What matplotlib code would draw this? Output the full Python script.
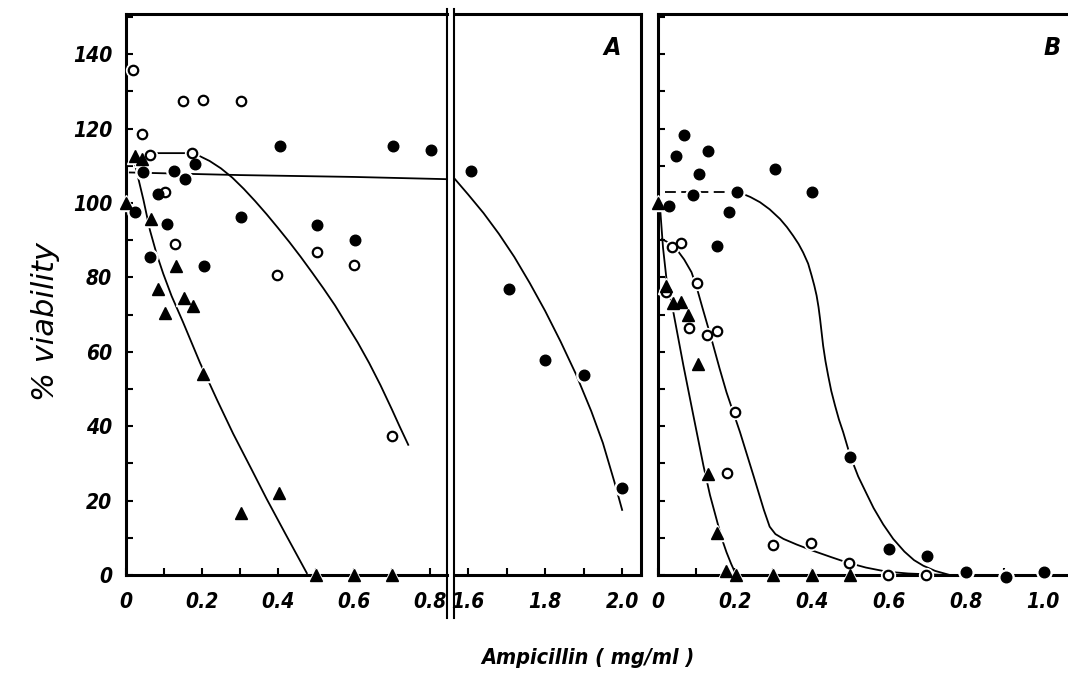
import numpy as np
import matplotlib
matplotlib.use("Agg")
import matplotlib.pyplot as plt
from matplotlib.lines import Line2D
from matplotlib.ticker import MultipleLocator, FixedLocator

plt.rcParams['font.family'] = ['DejaVu Sans']
plt.rcParams['font.stretch'] = 'condensed'
plt.rcParams['font.style'] = 'italic'

# ---- panel A, low range (0 - 0.8 mg/ml) ----
a_open_x = [0.019, 0.151, 0.202, 0.303, 0.043, 0.063, 0.175, 0.103, 0.128, 0.398, 0.503, 0.600, 0.699]
a_open_y = [135.7, 127.5, 127.7, 127.5, 118.5, 112.9, 113.4, 102.9, 88.9, 80.6, 86.7, 83.4, 37.4]
a_fill_x = [0.044, 0.126, 0.156, 0.182, 0.083, 0.023, 0.109, 0.064, 0.206, 0.303, 0.405, 0.504, 0.603, 0.704, 0.804]
a_fill_y = [108.3, 108.6, 106.4, 110.5, 102.3, 97.5, 94.4, 85.6, 83.1, 96.2, 115.3, 94.0, 90.1, 115.4, 114.2]
a_tri_x = [0.024, 0.041, 0.0, 0.065, 0.131, 0.083, 0.103, 0.153, 0.177, 0.203, 0.304, 0.404, 0.5, 0.6, 0.7]
a_tri_y = [112.6, 111.7, 100.0, 95.7, 83.1, 77.0, 70.3, 74.4, 72.3, 54.0, 16.7, 22.1, 0.0, 0.0, 0.0]

# fitted curves
a_fill_curve_x = [0.01, 0.3, 0.6, 0.845]
a_fill_curve_y = [108.2, 107.5, 107.0, 106.4]
a_open_curve_x = [0.055, 0.16, 0.19, 0.22, 0.25, 0.28, 0.31, 0.34, 0.37, 0.40, 0.43, 0.46,
                  0.49, 0.52, 0.55, 0.58, 0.61, 0.64, 0.67, 0.70, 0.72, 0.743]
a_open_curve_y = [113.4, 113.4, 112.8, 111.3, 109.3, 106.8, 103.8, 100.5, 97.0, 93.3, 89.5, 85.5,
                  81.3, 77.0, 72.5, 67.5, 62.5, 57.0, 51.0, 44.5, 40.0, 35.0]
a_tri_curve_x = [0.022, 0.035, 0.046, 0.063, 0.08, 0.098, 0.12, 0.15, 0.195, 0.24, 0.282,
                 0.33, 0.37, 0.42, 0.476]
a_tri_curve_y = [111.0, 105.5, 100.8, 92.7, 86.5, 81.0, 75.0, 68.0, 57.0, 47.0, 38.0,
                 28.5, 20.5, 11.0, 0.5]
a_tri_base_x = [0.476, 0.72]
a_tri_base_y = [0.0, 0.0]

# ---- panel A, high range (1.6 - 2.0 mg/ml) ----
a2_fill_x = [1.607, 1.705, 1.80, 1.90, 2.00]
a2_fill_y = [108.6, 77.0, 57.8, 53.8, 23.5]
a2_curve_x = [1.566, 1.60, 1.64, 1.68, 1.72, 1.76, 1.80, 1.84, 1.88, 1.92, 1.95, 1.98, 2.0]
a2_curve_y = [106.4, 102.3, 97.3, 91.7, 85.5, 78.5, 71.0, 62.8, 54.0, 44.0, 35.5, 25.0, 17.5]

# ---- panel B ----
b_fill_x = [0.068, 0.048, 0.131, 0.107, 0.304, 0.092, 0.204, 0.399, 0.029, 0.185, 0.152,
            0.5, 0.6, 0.698, 0.8, 0.904, 1.003]
b_fill_y = [118.3, 112.7, 113.9, 107.8, 109.1, 102.2, 102.9, 103.0, 99.1, 97.5, 88.4,
            31.6, 7.0, 5.0, 0.7, -0.5, 0.9]
b_open_x = [0.059, 0.036, 0.102, 0.022, 0.081, 0.126, 0.152, 0.2, 0.18, 0.3, 0.397, 0.497, 0.598, 0.695]
b_open_y = [89.2, 88.1, 78.5, 76.0, 66.4, 64.5, 65.5, 43.7, 27.4, 8.1, 8.5, 3.2, 0.0, 0.0]
b_tri_x = [0.0, 0.022, 0.04, 0.06, 0.079, 0.103, 0.129, 0.152, 0.177, 0.203, 0.3, 0.4, 0.5]
b_tri_y = [100.0, 77.8, 73.0, 73.3, 70.0, 56.7, 27.2, 11.3, 1.1, 0.0, 0.0, 0.0, 0.0]

b_fill_flat_x = [0.018, 0.21]
b_fill_flat_y = [102.9, 102.9]
b_fill_curve_x = [0.21, 0.24, 0.265, 0.29, 0.317, 0.335, 0.351, 0.365, 0.377, 0.39, 0.399,
                  0.406, 0.412, 0.417, 0.421, 0.425, 0.429, 0.435, 0.442, 0.45, 0.46,
                  0.47, 0.481, 0.499, 0.52, 0.542, 0.56, 0.585, 0.611, 0.64, 0.665,
                  0.689, 0.72, 0.758]
b_fill_curve_y = [102.9, 101.6, 100.2, 98.3, 95.7, 93.5, 91.2, 89.0, 86.7, 83.7, 80.5,
                  77.8, 75.1, 72.0, 68.8, 65.2, 61.6, 57.5, 53.6, 49.5, 45.5,
                  41.8, 38.4, 32.1, 26.5, 21.8, 18.0, 13.6, 9.7, 6.3, 4.0,
                  2.5, 1.1, 0.0]
b_open_curve_x = [0.01, 0.03, 0.048, 0.068, 0.087, 0.10, 0.115, 0.139, 0.16, 0.178, 0.213,
                  0.248, 0.275, 0.29, 0.305, 0.326, 0.36, 0.403, 0.45, 0.49, 0.54,
                  0.594, 0.65, 0.698, 0.75]
b_open_curve_y = [90.3, 89.2, 87.6, 84.8, 81.4, 77.5, 72.0, 63.4, 55.5, 49.1, 38.4,
                  26.7, 17.5, 13.0, 11.0, 9.7, 8.2, 6.5, 4.8, 3.4, 2.0,
                  0.9, 0.4, 0.2, 0.0]
b_tri_curve_x = [0.005, 0.013, 0.022, 0.04, 0.066, 0.092, 0.118, 0.135, 0.152, 0.165,
                 0.178, 0.19, 0.2]
b_tri_curve_y = [99.3, 88.0, 79.6, 70.6, 56.3, 42.8, 29.4, 21.5, 15.0, 10.0,
                 6.1, 3.0, 0.7]
b_base_x = [0.2, 1.065]
b_base_y = [0.0, 0.0]

y_max = 150.8

fig = plt.figure(figsize=(10.68, 6.74), dpi=100)
bottom, height = 99 / 674, 561 / 674
ax1 = fig.add_axes([126 / 1068, bottom, 321 / 1068, height])
ax2 = fig.add_axes([455 / 1068, bottom, 186 / 1068, height])
ax3 = fig.add_axes([658 / 1068, bottom, 410 / 1068, height])

LW = 1.3


def curve(ax, x, y, ls='-'):
    ax.plot(x, y, color='black', lw=LW, ls=ls, zorder=2, clip_on=False,
            solid_joinstyle='round')


def points(ax, x, y, kind):
    # white halo first so the curves break around the symbols
    if kind == 'fill':
        ax.plot(x, y, 'o', ms=11, color='white', zorder=3, clip_on=False)
        ax.plot(x, y, 'o', ms=7.6, color='black', zorder=4, clip_on=False)
    elif kind == 'open':
        ax.plot(x, y, 'o', ms=10, color='white', zorder=3, clip_on=False)
        ax.plot(x, y, 'o', ms=6.8, mfc='white', mec='black', mew=1.6, zorder=4, clip_on=False)
    else:
        ax.plot(x, y, '^', ms=11, color='white', zorder=3, clip_on=False)
        ax.plot(x, y, '^', ms=8, color='black', zorder=4, clip_on=False)


# panel A low
curve(ax1, a_fill_curve_x, a_fill_curve_y)
curve(ax1, a_open_curve_x, a_open_curve_y)
curve(ax1, a_tri_curve_x, a_tri_curve_y)
curve(ax1, a_tri_base_x, a_tri_base_y)
points(ax1, a_open_x, a_open_y, 'open')
points(ax1, a_fill_x, a_fill_y, 'fill')
points(ax1, a_tri_x, a_tri_y, 'tri')

# panel A high
curve(ax2, a2_curve_x, a2_curve_y)
points(ax2, a2_fill_x, a2_fill_y, 'fill')

# panel B
curve(ax3, b_fill_flat_x, b_fill_flat_y, ls=(0, (6, 3)))
curve(ax3, b_fill_curve_x, b_fill_curve_y)
curve(ax3, b_open_curve_x, b_open_curve_y)
curve(ax3, b_tri_curve_x, b_tri_curve_y)
curve(ax3, b_base_x, b_base_y, ls=(0, (8, 3)))
points(ax3, b_open_x, b_open_y, 'open')
points(ax3, b_fill_x, b_fill_y, 'fill')
points(ax3, b_tri_x, b_tri_y, 'tri')

for ax in (ax1, ax2, ax3):
    ax.set_ylim(0, y_max)
    for s in ax.spines.values():
        s.set_linewidth(2.2)
    ax.tick_params(which='both', direction='in', length=5, width=1.5,
                   top=False, right=False, pad=12, labelsize=15)

ax1.set_xlim(0, 0.845)
ax1.xaxis.set_major_locator(FixedLocator([0, 0.2, 0.4, 0.6, 0.8]))
ax1.xaxis.set_minor_locator(MultipleLocator(0.1))
ax1.set_xticklabels(['0', '0.2', '0.4', '0.6', '0.8'])
ax1.yaxis.set_major_locator(MultipleLocator(20))
ax1.yaxis.set_minor_locator(MultipleLocator(10))
ax1.spines['right'].set_visible(False)
ax1.tick_params(axis='y', pad=10)

ax2.set_xlim(1.566, 2.049)
ax2.xaxis.set_major_locator(FixedLocator([1.6, 1.8, 2.0]))
ax2.xaxis.set_minor_locator(FixedLocator([1.7, 1.9]))
ax2.set_xticklabels(['1.6', '1.8', '2.0'])
ax2.spines['left'].set_visible(False)
ax2.tick_params(axis='y', which='both', left=False, labelleft=False)

ax3.set_xlim(0, 1.065)
ax3.xaxis.set_major_locator(FixedLocator([0, 0.2, 0.4, 0.6, 0.8, 1.0]))
ax3.xaxis.set_minor_locator(MultipleLocator(0.1))
ax3.set_xticklabels(['0', '0.2', '0.4', '0.6', '0.8', '1.0'])
ax3.yaxis.set_major_locator(MultipleLocator(20))
ax3.yaxis.set_minor_locator(MultipleLocator(10))
ax3.tick_params(axis='y', labelleft=False)
ax3.spines['right'].set_visible(False)

for lab in ax1.get_xticklabels() + ax2.get_xticklabels() + ax3.get_xticklabels() + ax1.get_yticklabels():
    lab.set_fontstyle('italic')
    lab.set_fontweight('bold')
    lab.set_fontstretch('condensed')

# axis break: two vertical lines running past the frame
for xp in (447, 454):
    fig.add_artist(Line2D([xp / 1068, xp / 1068], [1 - 9 / 674, 1 - 618 / 674],
                          color='black', lw=1.5, transform=fig.transFigure))

ax2.text(0.844, 0.939, 'A', transform=ax2.transAxes, ha='center', va='center',
         fontsize=18, fontstyle='italic', fontweight='bold', fontstretch='condensed')
ax3.text(0.961, 0.939, 'B', transform=ax3.transAxes, ha='center', va='center',
         fontsize=18, fontstyle='italic', fontweight='bold', fontstretch='condensed')

fig.text(588 / 1068, 1 - 658 / 674, 'Ampicillin ( mg/ml )', ha='center', va='center',
         fontsize=15.5, fontstyle='italic', fontweight='bold', fontstretch='condensed')
fig.text(46 / 1068, 1 - 322 / 674, '% viability', ha='center', va='center', rotation=90,
         fontsize=22, fontstyle='italic', fontstretch='normal')

fig.savefig('out.png', dpi=100)
